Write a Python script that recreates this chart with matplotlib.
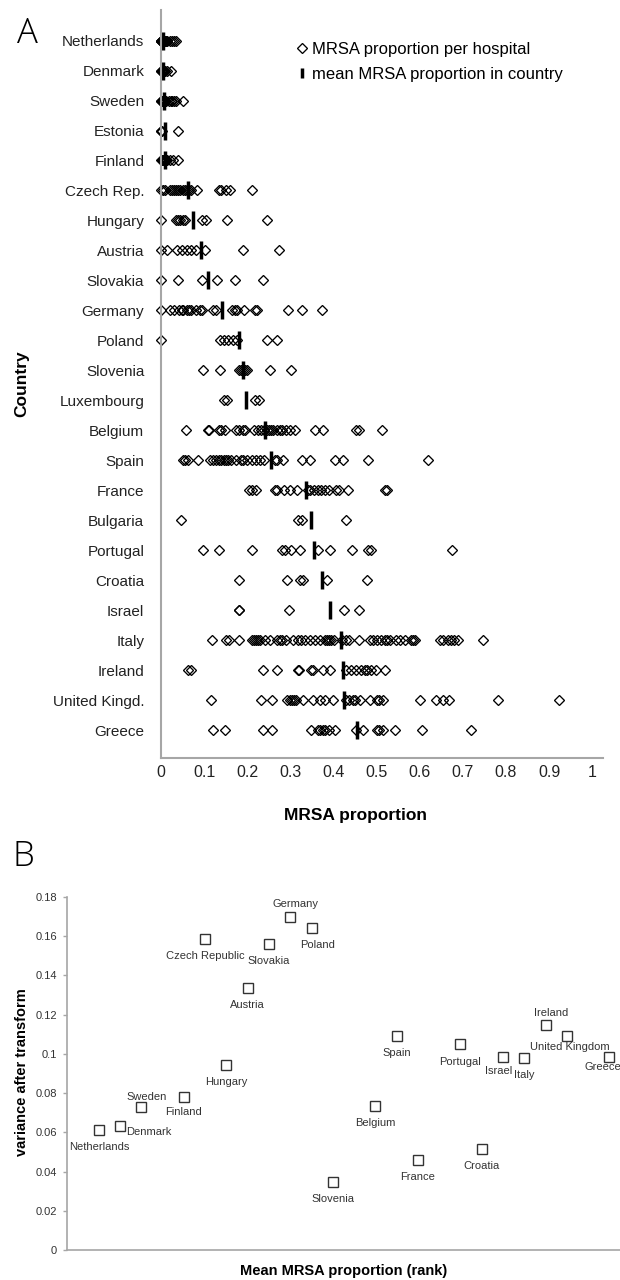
import matplotlib
matplotlib.use("Agg")
import matplotlib.pyplot as plt
from matplotlib.lines import Line2D

plt.rcParams["font.family"] = ["Liberation Sans", "DejaVu Sans"]

# ---- panel A: MRSA proportion per hospital, countries top to bottom
countries_a = ["Netherlands", "Denmark", "Sweden", "Estonia", "Finland", "Czech Rep.",
               "Hungary", "Austria", "Slovakia", "Germany", "Poland", "Slovenia",
               "Luxembourg", "Belgium", "Spain", "France", "Bulgaria", "Portugal",
               "Croatia", "Israel", "Italy", "Ireland", "United Kingd.", "Greece"]

netherlands = [0, 0, 0, 0, 0.003, 0.005, 0.005, 0.008, 0.01, 0.012, 0.015, 0.02, 0.025, 0.03, 0.035]
denmark = [0, 0, 0.003, 0.005, 0.008, 0.01, 0.015, 0.022]
sweden = [0, 0, 0.003, 0.005, 0.008, 0.01, 0.012, 0.018, 0.022, 0.025, 0.03, 0.035, 0.05]
estonia = [0, 0, 0.003, 0.04]
finland = [0, 0.002, 0.005, 0.008, 0.01, 0.012, 0.015, 0.02, 0.028, 0.04]
czech = [0, 0.005, 0.01, 0.02, 0.025, 0.03, 0.035, 0.04, 0.045, 0.05, 0.055, 0.06,
         0.065, 0.07, 0.083, 0.135, 0.14, 0.15, 0.16, 0.212]
hungary = [0, 0.035, 0.04, 0.045, 0.05, 0.055, 0.095, 0.105, 0.152, 0.245]
austria = [0, 0.015, 0.036, 0.048, 0.06, 0.07, 0.082, 0.102, 0.19, 0.274]
slovakia = [0, 0.04, 0.094, 0.129, 0.171, 0.237]
germany = [0, 0.02, 0.03, 0.042, 0.048, 0.052, 0.06, 0.065, 0.07, 0.08, 0.09, 0.094,
           0.12, 0.128, 0.165, 0.172, 0.176, 0.192, 0.219, 0.222, 0.295, 0.326, 0.374]
poland = [0, 0.137, 0.146, 0.156, 0.166, 0.176, 0.245, 0.268]
slovenia = [0.098, 0.137, 0.18, 0.185, 0.19, 0.195, 0.2, 0.252, 0.302]
luxembourg = [0.145, 0.152, 0.218, 0.228]
belgium = [0.059, 0.108, 0.112, 0.135, 0.14, 0.148, 0.175, 0.18, 0.19, 0.195, 0.215,
           0.225, 0.232, 0.238, 0.245, 0.25, 0.255, 0.26, 0.268, 0.275, 0.28, 0.29,
           0.3, 0.31, 0.356, 0.376, 0.453, 0.46, 0.512]
spain = [0.05, 0.055, 0.062, 0.086, 0.113, 0.12, 0.128, 0.135, 0.14, 0.146, 0.15, 0.155,
         0.163, 0.175, 0.185, 0.19, 0.2, 0.21, 0.22, 0.23, 0.238, 0.264, 0.27, 0.283,
         0.326, 0.345, 0.403, 0.422, 0.48, 0.619]
france = [0.205, 0.212, 0.22, 0.265, 0.27, 0.285, 0.3, 0.315, 0.34, 0.345, 0.355, 0.365,
          0.372, 0.38, 0.39, 0.405, 0.412, 0.434, 0.52, 0.524]
bulgaria = [0.046, 0.318, 0.326, 0.43]
portugal = [0.098, 0.134, 0.21, 0.28, 0.287, 0.302, 0.323, 0.365, 0.391, 0.443, 0.48,
            0.488, 0.674]
croatia = [0.181, 0.292, 0.322, 0.33, 0.384, 0.478]
israel = [0.18, 0.182, 0.297, 0.424, 0.459]
italy = [0.119, 0.15, 0.158, 0.181, 0.21, 0.215, 0.22, 0.225, 0.23, 0.24, 0.252, 0.27,
         0.275, 0.28, 0.29, 0.306, 0.318, 0.325, 0.333, 0.345, 0.356, 0.368, 0.38,
         0.385, 0.39, 0.395, 0.4, 0.42, 0.43, 0.437, 0.459, 0.485, 0.492, 0.5, 0.51,
         0.52, 0.525, 0.53, 0.545, 0.555, 0.565, 0.58, 0.585, 0.59, 0.646, 0.655,
         0.665, 0.672, 0.68, 0.688, 0.746]
ireland = [0.062, 0.07, 0.237, 0.269, 0.317, 0.321, 0.348, 0.352, 0.376, 0.391, 0.428,
           0.441, 0.453, 0.464, 0.472, 0.477, 0.488, 0.499, 0.519]
uk = [0.117, 0.231, 0.258, 0.292, 0.298, 0.303, 0.308, 0.314, 0.33, 0.353, 0.368, 0.38,
      0.399, 0.43, 0.437, 0.445, 0.449, 0.461, 0.484, 0.5, 0.505, 0.515, 0.6, 0.638,
      0.654, 0.669, 0.782, 0.924]
greece = [0.121, 0.148, 0.237, 0.258, 0.347, 0.364, 0.368, 0.375, 0.38, 0.39, 0.403,
          0.452, 0.468, 0.5, 0.506, 0.515, 0.543, 0.606, 0.718]

hospital_props = [netherlands, denmark, sweden, estonia, finland, czech, hungary, austria,
                  slovakia, germany, poland, slovenia, luxembourg, belgium, spain, france,
                  bulgaria, portugal, croatia, israel, italy, ireland, uk, greece]

country_means = [0.005, 0.004, 0.007, 0.01, 0.009, 0.062, 0.075, 0.092, 0.11, 0.142,
                 0.181, 0.189, 0.196, 0.241, 0.254, 0.337, 0.347, 0.354, 0.374, 0.392,
                 0.418, 0.421, 0.424, 0.454]

# ---- panel B: variance after transform vs rank of mean MRSA proportion
countries_b = ["Netherlands", "Denmark", "Sweden", "Finland", "Czech Republic", "Hungary",
               "Austria", "Slovakia", "Germany", "Poland", "Slovenia", "Belgium", "Spain",
               "France", "Portugal", "Croatia", "Israel", "Italy", "Ireland",
               "United Kingdom", "Greece"]
rank_b = [1, 2, 3, 5, 6, 7, 8, 9, 10, 11, 12, 14, 15, 16, 18, 19, 20, 21, 22, 23, 25]
variance_b = [0.0612, 0.0632, 0.073, 0.078, 0.1586, 0.0943, 0.1336, 0.156, 0.170, 0.164,
              0.0347, 0.0734, 0.109, 0.0459, 0.105, 0.0515, 0.0984, 0.098, 0.1147,
              0.109, 0.0984]

# where each country name sits relative to its square (points)
label_offsets = {
    "Netherlands": (0, -12), "Denmark": (21, -4), "Sweden": (4, 7), "Finland": (0, -11),
    "Czech Republic": (0, -12), "Hungary": (0, -12), "Austria": (0, -12),
    "Slovakia": (0, -12), "Germany": (4, 9), "Poland": (4, -12), "Slovenia": (0, -12),
    "Belgium": (0, -12), "Spain": (0, -12), "France": (0, -12), "Portugal": (0, -13),
    "Croatia": (0, -12), "Israel": (-3, -10), "Italy": (0, -12), "Ireland": (4, 9),
    "United Kingdom": (2, -8), "Greece": (-5, -7),
}

fig = plt.figure(figsize=(6.2, 12.8), dpi=100)
grey = "#a6a6a6"

# ---------------- panel A
axA = fig.add_axes([0.2597, 0.4078, 0.7129, 0.5844])
for i, vals in enumerate(hospital_props):
    axA.plot(vals, [i] * len(vals), ls="none", marker="D", ms=5.2, mfc="none",
             mec="black", mew=0.95, clip_on=False)
axA.plot(country_means, range(len(countries_a)), ls="none", marker="|", ms=13,
         mew=2.5, color="black", clip_on=False)

axA.set_xlim(0, 1.025)
axA.set_ylim(len(countries_a) - 0.07, -1.02)
axA.set_yticks(range(len(countries_a)))
axA.set_yticklabels(countries_a, fontsize=11, color="#222222")
xt = [i / 10 for i in range(11)]
axA.set_xticks(xt)
axA.set_xticklabels(["%g" % v for v in xt], fontsize=11.5, color="#222222")
axA.tick_params(axis="y", length=0, pad=12)
axA.tick_params(axis="x", length=0, pad=5)
for s in ["top", "right"]:
    axA.spines[s].set_visible(False)
for s in ["left", "bottom"]:
    axA.spines[s].set_color(grey)
    axA.spines[s].set_linewidth(1.5)

axA.set_xlabel("MRSA proportion", fontsize=12.5, fontweight="bold")
axA.xaxis.set_label_coords(0.439, -0.067)
axA.set_ylabel("Country", fontsize=12.5, fontweight="bold")
axA.yaxis.set_label_coords(-0.298, 0.5)

h1 = Line2D([], [], ls="none", marker="D", ms=5.2, mfc="none", mec="black", mew=0.95)
h2 = Line2D([], [], ls="none", marker="|", ms=7, mew=2.5, color="black")
axA.legend([h1, h2], ["MRSA proportion per hospital", "mean MRSA proportion in country"],
           loc="upper left", bbox_to_anchor=(0.308, 0.957), frameon=False,
           fontsize=12, handlelength=0.6, handletextpad=0.3, borderpad=0,
           borderaxespad=0, labelspacing=0.6)

fig.text(0.044, 0.974, "A", fontsize=25, ha="center", va="center",
         family=["Open Sans", "Liberation Sans"], fontweight="light")

# ---------------- panel B
axB = fig.add_axes([0.108, 0.0234, 0.892, 0.2758])
axB.plot(rank_b, variance_b, ls="none", marker="s", ms=7, mfc="none", mec="#333333",
         mew=1.0, clip_on=False)
for name, r, v in zip(countries_b, rank_b, variance_b):
    axB.annotate(name, (r, v), xytext=label_offsets[name], textcoords="offset points",
                 ha="center", va="center", fontsize=8, color="#333333",
                 annotation_clip=False)

axB.set_xlim(-0.5, 25.5)
axB.set_ylim(0, 0.18)
yt = [round(i * 0.02, 2) for i in range(10)]
axB.set_yticks(yt)
axB.set_yticklabels(["%g" % v for v in yt], fontsize=8, color="#333333")
axB.set_xticks([])
axB.tick_params(axis="y", length=3, width=1, color=grey, pad=4)
for s in ["top", "right"]:
    axB.spines[s].set_visible(False)
for s in ["left", "bottom"]:
    axB.spines[s].set_color(grey)
    axB.spines[s].set_linewidth(1.2)

axB.set_xlabel("Mean MRSA proportion (rank)", fontsize=10.5, fontweight="bold")
axB.xaxis.set_label_coords(0.501, -0.04)
axB.set_ylabel("variance after transform", fontsize=10.5, fontweight="bold")
axB.yaxis.set_label_coords(-0.068, 0.504)

fig.text(0.037, 0.331, "B", fontsize=25, ha="center", va="center",
         family=["Open Sans", "Liberation Sans"], fontweight="light")

fig.savefig("out.png", dpi=100)
